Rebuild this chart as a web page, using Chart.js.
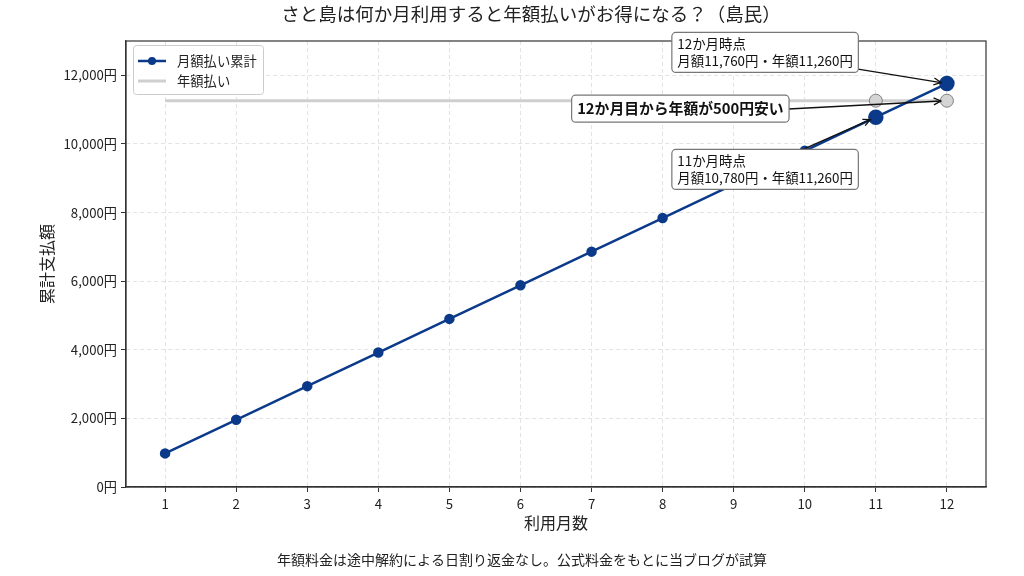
<!DOCTYPE html>
<html>
<head>
<meta charset="utf-8">
<script src="https://cdn.jsdelivr.net/npm/chart.js@4.4.1/dist/chart.umd.min.js"></script>
<style>
  html, body { margin: 0; padding: 0; background: #fff; }
  #wrap { width: 1024px; height: 576px; }
</style>
</head>
<body>
<div id="wrap"><canvas id="chart" width="1024" height="576"></canvas></div>
<script>
// ================= DATA =================
const months = [1, 2, 3, 4, 5, 6, 7, 8, 9, 10, 11, 12];
const monthlyTotal = [980, 1960, 2940, 3920, 4900, 5880, 6860, 7840, 8820, 9800, 10780, 11760];
const annualPrice = [11260, 11260, 11260, 11260, 11260, 11260, 11260, 11260, 11260, 11260, 11260, 11260];
const yTicks = [0, 2000, 4000, 6000, 8000, 10000, 12000];
const seriesNames = ['月額払い累計', '年額払い'];

const FONT = '"Noto Sans CJK JP", "Noto Sans", sans-serif';
const BLUE = '#0c3a8a';
const GRAY = '#cfcfcf';

function yen(v){ return v.toLocaleString('en-US') + '円'; }

// notes: box anchored at data coords (top-left), arrow to a data point
const notes = [
    { lines: ['12か月時点', '月額11,760円・年額11,260円'], x: 8.13, y: 13250, bold: false,
      from: [10.75, 12180], to: [12, 11760] },
    { lines: ['12か月目から年額が500円安い'], x: 6.72, y: 11420, bold: true,
      from: [9.7, 11010], to: [12, 11260] },
    { lines: ['11か月時点', '月額10,780円・年額11,260円'], x: 8.13, y: 9840, bold: false,
      from: [9.6, 9500], to: [11, 10780] }
];

const pts = monthlyTotal.map((v, i) => ({ x: months[i], y: v }));
const ann = annualPrice.map((v, i) => ({ x: months[i], y: v }));

function arrow(c, x1, y1, x2, y2){
    c.save();
    c.strokeStyle = '#111';
    c.lineWidth = 1.3;
    let a = Math.atan2(y2 - y1, x2 - x1);
    // stop just short of the marker
    x2 -= Math.cos(a) * 6; y2 -= Math.sin(a) * 6;
    c.beginPath(); c.moveTo(x1, y1); c.lineTo(x2, y2); c.stroke();
    c.beginPath();
    c.moveTo(x2 - Math.cos(a - 0.45) * 8, y2 - Math.sin(a - 0.45) * 8);
    c.lineTo(x2, y2);
    c.lineTo(x2 - Math.cos(a + 0.45) * 8, y2 - Math.sin(a + 0.45) * 8);
    c.stroke();
    c.restore();
}

function roundBox(c, x, y, w, h, r){
    c.beginPath();
    c.moveTo(x + r, y);
    c.arcTo(x + w, y, x + w, y + h, r);
    c.arcTo(x + w, y + h, x, y + h, r);
    c.arcTo(x, y + h, x, y, r);
    c.arcTo(x, y, x + w, y, r);
    c.closePath();
}

const decor = {
    id: 'decor',
    afterDraw(chart){
        const c = chart.ctx;
        const xs = chart.scales.x, ys = chart.scales.y;
        const area = chart.chartArea;

        // frame
        c.save();
        c.strokeStyle = '#333';
        c.lineWidth = 1.2;
        c.strokeRect(area.left, area.top, area.right - area.left, area.bottom - area.top);
        c.restore();

        // title, axis titles, footer
        c.save();
        c.fillStyle = '#222';
        c.textAlign = 'center';
        c.textBaseline = 'middle';
        c.font = '18.5px ' + FONT;
        c.fillText('さと島は何か月利用すると年額払いがお得になる？（島民）', 531, 14);
        c.font = '16px ' + FONT;
        c.fillText('利用月数', (area.left + area.right) / 2, 523);
        c.font = '14px ' + FONT;
        c.fillText('年額料金は途中解約による日割り返金なし。公式料金をもとに当ブログが試算', 522, 560);
        c.translate(47, (area.top + area.bottom) / 2);
        c.rotate(-Math.PI / 2);
        c.font = '16px ' + FONT;
        c.fillText('累計支払額', 0, 0);
        c.restore();

        // legend
        c.save();
        c.fillStyle = 'rgba(255,255,255,0.9)';
        c.strokeStyle = '#ccc';
        c.lineWidth = 1;
        roundBox(c, 133.5, 45.5, 130, 49, 3);
        c.fill(); c.stroke();
        c.lineWidth = 2.5;
        c.strokeStyle = BLUE;
        c.beginPath(); c.moveTo(138, 61); c.lineTo(166, 61); c.stroke();
        c.fillStyle = BLUE;
        c.beginPath(); c.arc(152, 61, 4, 0, Math.PI * 2); c.fill();
        c.strokeStyle = GRAY;
        c.lineWidth = 3;
        c.beginPath(); c.moveTo(138, 81); c.lineTo(166, 81); c.stroke();
        c.fillStyle = '#222';
        c.font = '13.3px ' + FONT;
        c.textBaseline = 'middle';
        c.fillText(seriesNames[0], 177, 61);
        c.fillText(seriesNames[1], 177, 81);
        c.restore();

        // annotations
        notes.forEach(n => {
            c.save();
            c.font = (n.bold ? 'bold 14.8px ' : '13.4px ') + FONT;
            let bx = xs.getPixelForValue(n.x), by = ys.getPixelForValue(n.y);
            let w = Math.max(...n.lines.map(l => c.measureText(l).width)) + 11;
            let lh = n.bold ? 19 : 17;
            let h = n.lines.length * lh + (n.bold ? 8 : 6);
            arrow(c, xs.getPixelForValue(n.from[0]), ys.getPixelForValue(n.from[1]),
                  xs.getPixelForValue(n.to[0]), ys.getPixelForValue(n.to[1]));
            c.fillStyle = '#fff';
            c.strokeStyle = '#777';
            c.lineWidth = 1.2;
            roundBox(c, bx, by, w, h, 4);
            c.fill(); c.stroke();
            c.fillStyle = '#111';
            c.textBaseline = 'middle';
            let top = by + (h - n.lines.length * lh) / 2;
            n.lines.forEach((l, i) => c.fillText(l, bx + 5.5, top + lh / 2 + i * lh));
            c.restore();
        });
    }
};

new Chart(document.getElementById('chart'), {
    type: 'line',
    data: {
        datasets: [
            {
                label: seriesNames[1],
                data: ann,
                borderColor: GRAY,
                borderWidth: 3,
                pointRadius: ann.map((p, i) => i >= 10 ? 6.5 : 0),
                pointBackgroundColor: '#d4d4d4',
                pointBorderColor: '#808080',
                pointBorderWidth: 1,
                order: 2
            },
            {
                label: seriesNames[0],
                data: pts,
                borderColor: BLUE,
                backgroundColor: BLUE,
                borderWidth: 2.5,
                pointRadius: pts.map((p, i) => i >= 10 ? 6.5 : 4),
                pointBackgroundColor: BLUE,
                pointBorderColor: BLUE,
                order: 1
            }
        ]
    },
    options: {
        responsive: false,
        animation: false,
        layout: { padding: { top: 41, left: 62, right: 38, bottom: 59 } },
        plugins: { legend: { display: false }, tooltip: { enabled: false } },
        scales: {
            x: {
                type: 'linear',
                min: 0.45, max: 12.55,
                afterBuildTicks: s => { s.ticks = months.map(v => ({ value: v })); },
                afterFit: s => { s.height = 30; },
                ticks: { color: '#222', font: { family: FONT, size: 13.2 }, padding: 4, callback: v => String(v) },
                grid: { color: '#e3e3e3', tickLength: 5, tickColor: '#333' },
                border: { color: '#333', width: 1.2, dash: [4, 3] }
            },
            y: {
                min: 0, max: 13000,
                afterBuildTicks: s => { s.ticks = yTicks.map(v => ({ value: v })); },
                afterFit: s => { s.width = 64; },
                ticks: { color: '#222', font: { family: FONT, size: 13.2 }, padding: 4, callback: v => yen(v) },
                grid: { color: '#e3e3e3', tickLength: 5, tickColor: '#333' },
                border: { color: '#333', width: 1.2, dash: [4, 3] }
            }
        }
    },
    plugins: [decor]
});
</script>
</body>
</html>
